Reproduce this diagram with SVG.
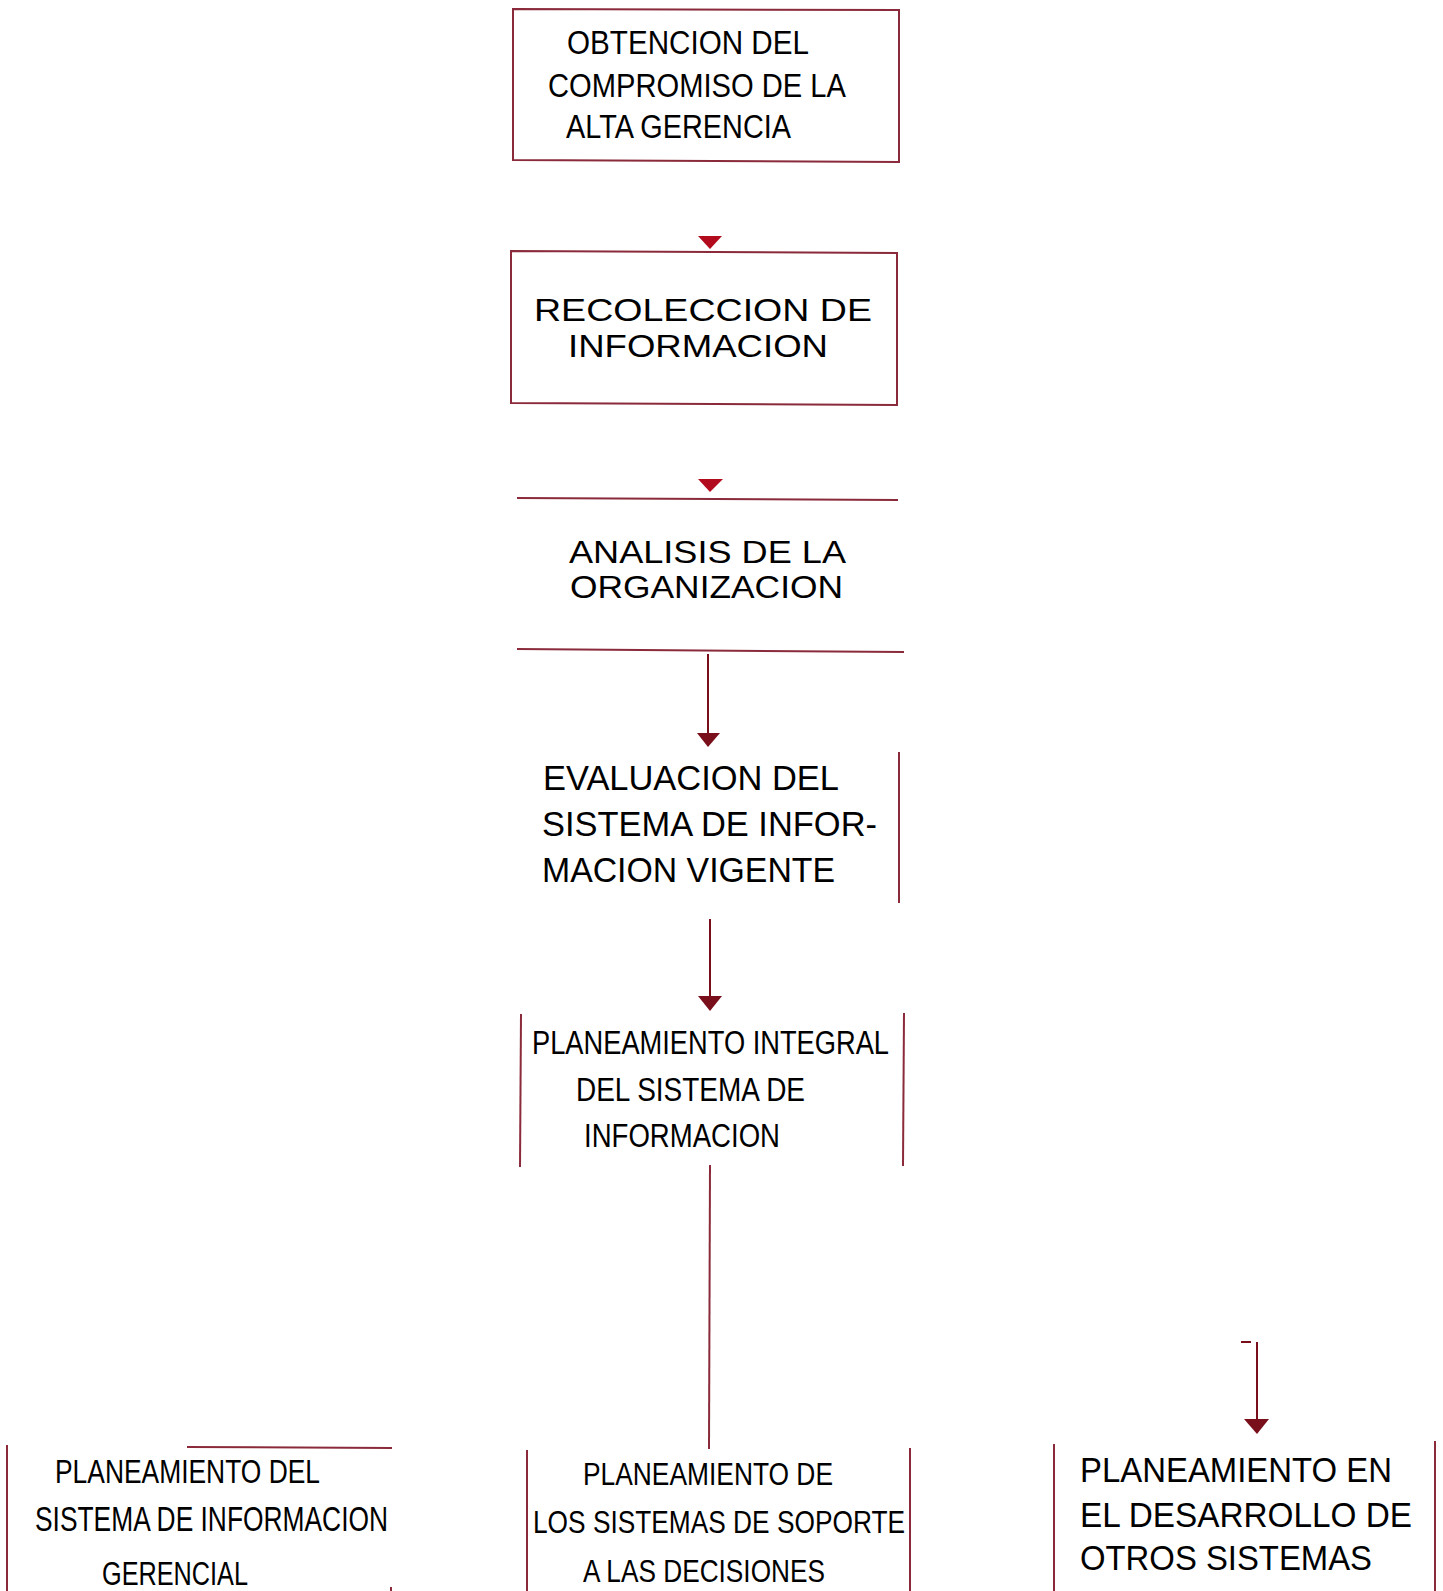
<svg xmlns="http://www.w3.org/2000/svg" width="1443" height="1591" viewBox="0 0 1443 1591">
<style>
.bx{fill:none;stroke:#8a2a3a;stroke-width:2}
.ln{fill:none;stroke:#8a2a3a;stroke-width:2}
.cn{fill:none;stroke:#7a0f1c;stroke-width:2}
.ah{fill:#7a0f1c}
.ah2{fill:#b30b1e}
text{font-family:"Liberation Sans",Arial,sans-serif;fill:#000}
</style>
<rect width="1443" height="1591" fill="#fff"/>
<g id="connectors">
<polygon class="ah2" points="698,236 722,236 710,249"/>
<polygon class="ah2" points="698,479 723,479 710,492"/>
<line class="cn" x1="708" y1="654" x2="708" y2="735"/>
<polygon class="ah" points="697,733 720,733 708,747"/>
<line class="cn" x1="710" y1="919" x2="710" y2="998"/>
<polygon class="ah" points="698,996 722,996 710,1011"/>
<line class="ln" x1="710" y1="1165" x2="709" y2="1449"/>
<line class="cn" x1="1241" y1="1342" x2="1251" y2="1342"/>
<line class="cn" x1="1257" y1="1342" x2="1257" y2="1422"/>
<polygon class="ah" points="1244,1419 1269,1419 1257,1434"/>
</g>
<g id="n1">
<polygon class="bx" points="513,9 899,10 899,162 513,160"/>
<text x="567" y="54" font-size="33" textLength="242" lengthAdjust="spacingAndGlyphs">OBTENCION DEL</text>
<text x="548" y="97" font-size="33" textLength="298" lengthAdjust="spacingAndGlyphs">COMPROMISO DE LA</text>
<text x="566" y="138" font-size="33" textLength="225" lengthAdjust="spacingAndGlyphs">ALTA GERENCIA</text>
</g>
<g id="n2">
<polygon class="bx" points="511,251 897,253 897,405 511,403"/>
<text x="534" y="321" font-size="31" textLength="338" lengthAdjust="spacingAndGlyphs">RECOLECCION DE</text>
<text x="568" y="357" font-size="31" textLength="260" lengthAdjust="spacingAndGlyphs">INFORMACION</text>
</g>
<g id="n3">
<line class="ln" x1="517" y1="498" x2="898" y2="500"/>
<line class="ln" x1="517" y1="649" x2="904" y2="652"/>
<text x="569" y="563" font-size="31" textLength="277" lengthAdjust="spacingAndGlyphs">ANALISIS DE LA</text>
<text x="570" y="598" font-size="31" textLength="273" lengthAdjust="spacingAndGlyphs">ORGANIZACION</text>
</g>
<g id="n4">
<line class="ln" x1="899" y1="752" x2="899" y2="903"/>
<text x="543" y="790" font-size="35" textLength="296" lengthAdjust="spacingAndGlyphs">EVALUACION DEL</text>
<text x="542" y="836" font-size="35" textLength="335" lengthAdjust="spacingAndGlyphs">SISTEMA DE INFOR-</text>
<text x="542" y="882" font-size="35" textLength="293" lengthAdjust="spacingAndGlyphs">MACION VIGENTE</text>
</g>
<g id="n5">
<line class="ln" x1="521" y1="1014" x2="520" y2="1167"/>
<line class="ln" x1="904" y1="1013" x2="903" y2="1166"/>
<text x="532" y="1054" font-size="33" textLength="357" lengthAdjust="spacingAndGlyphs">PLANEAMIENTO INTEGRAL</text>
<text x="576" y="1101" font-size="33" textLength="229" lengthAdjust="spacingAndGlyphs">DEL SISTEMA DE</text>
<text x="584" y="1147" font-size="33" textLength="196" lengthAdjust="spacingAndGlyphs">INFORMACION</text>
</g>
<g id="n6">
<line class="ln" x1="7" y1="1445" x2="7" y2="1591"/>
<line class="ln" x1="187" y1="1447" x2="392" y2="1448"/>
<line class="ln" x1="391" y1="1587" x2="391" y2="1591"/>
<text x="55" y="1483" font-size="33" textLength="265" lengthAdjust="spacingAndGlyphs">PLANEAMIENTO DEL</text>
<text x="35" y="1531" font-size="35" textLength="353" lengthAdjust="spacingAndGlyphs">SISTEMA DE INFORMACION</text>
<text x="102" y="1585" font-size="34" textLength="146" lengthAdjust="spacingAndGlyphs">GERENCIAL</text>
</g>
<g id="n7">
<line class="ln" x1="527" y1="1450" x2="527" y2="1591"/>
<line class="ln" x1="910" y1="1448" x2="910" y2="1591"/>
<text x="583" y="1485" font-size="31" textLength="250" lengthAdjust="spacingAndGlyphs">PLANEAMIENTO DE</text>
<text x="533" y="1533" font-size="31" textLength="372" lengthAdjust="spacingAndGlyphs">LOS SISTEMAS DE SOPORTE</text>
<text x="583" y="1582" font-size="31" textLength="242" lengthAdjust="spacingAndGlyphs">A LAS DECISIONES</text>
</g>
<g id="n8">
<line class="ln" x1="1054" y1="1444" x2="1054" y2="1591"/>
<line class="ln" x1="1435" y1="1441" x2="1435" y2="1591"/>
<text x="1080" y="1482" font-size="35" textLength="312" lengthAdjust="spacingAndGlyphs">PLANEAMIENTO EN</text>
<text x="1080" y="1527" font-size="35" textLength="332" lengthAdjust="spacingAndGlyphs">EL DESARROLLO DE</text>
<text x="1080" y="1570" font-size="35" textLength="292" lengthAdjust="spacingAndGlyphs">OTROS SISTEMAS</text>
</g>
</svg>
